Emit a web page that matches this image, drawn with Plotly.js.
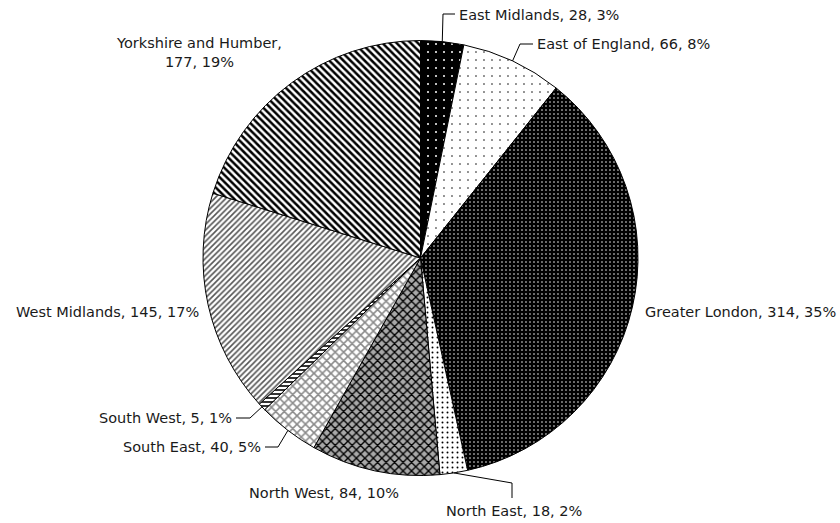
<!DOCTYPE html>
<html>
<head>
<meta charset="utf-8">
<script src="https://cdn.plot.ly/plotly-3.0.1.min.js"></script>
<style>html,body{margin:0;padding:0;background:#fff;}#chart{width:840px;height:523px;}</style>
</head>
<body>
<div id="chart"></div>
<script>
// ---- data ----
const regions = ["East Midlands","East of England","Greater London","North East","North West","South East","South West","West Midlands","Yorkshire and Humber"];
const counts = [28, 66, 314, 18, 84, 40, 5, 145, 177];
const pctLabels = ["3%","8%","35%","2%","10%","5%","1%","17%","19%"];

// ---- styling ----
const W = 840, H = 523;
const cx = 420.5, cy = 258, R = 217.5;
const patShape = [".", ".", ".", ".", "x", "x", "-", "/", "\\"];
const patFg = ["#ffffff", "#000000", "#ffffff", "#000000", "#000000", "#8a8a8a", "#000000", "#555555", "#000000"];
const patBg = ["#000000", "#ffffff", "#000000", "#ffffff", "#a8a8a8", "#ffffff", "#ffffff", "#ffffff", "#ffffff"];
const patSize = [8, 8, 4, 5, 6, 6, 4, 4, 5];
const patSolid = [0.05, 0.03, 0.12, 0.12, 0.4, 0.45, 0.4, 0.4, 0.5];

// label placement (pixels): [x, y, xanchor], optional leader elbow & end
const labelPos = [
  {x: 457, y: 15, a: "left", elbow: [443, 14], end: [455, 14]},
  {x: 535, y: 44, a: "left", elbow: [520, 44], end: [533, 44]},
  {x: 643, y: 312, a: "left"},
  {x: 514, y: 511, a: "center", elbow: [512, 483], end: [512, 498]},
  {x: 324, y: 493, a: "center"},
  {x: 263, y: 447, a: "right", elbow: [278, 447], end: [265, 447]},
  {x: 234, y: 418, a: "right", elbow: [250, 418], end: [236, 418]},
  {x: 201, y: 312, a: "right"},
  {x: 199, y: 53, a: "center", twoLine: true}
];

const px = x => x / W;
const py = y => 1 - y / H;

const total = counts.reduce((s, v) => s + v, 0);
let cum = 0;
const annotations = [];
const shapes = [];
counts.forEach((v, i) => {
  const mid = (cum + v / 2) / total * 2 * Math.PI;
  cum += v;
  const ex = cx + R * Math.sin(mid), ey = cy - R * Math.cos(mid);
  const L = labelPos[i];
  const txt = L.twoLine ? `${regions[i]},<br>${v}, ${pctLabels[i]}` : `${regions[i]}, ${v}, ${pctLabels[i]}`;
  annotations.push({
    text: txt, xref: "paper", yref: "paper", x: px(L.x), y: py(L.y),
    xanchor: L.a, yanchor: "middle", showarrow: false, align: "center",
    font: {family: "DejaVu Sans, Verdana, sans-serif", size: 14.5, color: "#1a1a1a"}
  });
  if (L.elbow) {
    const pts = [[ex, ey], L.elbow, L.end];
    for (let k = 0; k < 2; k++) {
      shapes.push({type: "line", xref: "paper", yref: "paper",
        x0: px(pts[k][0]), y0: py(pts[k][1]), x1: px(pts[k+1][0]), y1: py(pts[k+1][1]),
        line: {color: "#000", width: 1}});
    }
  }
});

const trace = {
  type: "pie",
  labels: regions,
  values: counts,
  sort: false,
  direction: "clockwise",
  rotation: 0,
  textinfo: "none",
  hoverinfo: "label+value",
  domain: {x: [(cx - R) / W, (cx + R) / W], y: [1 - (cy + R) / H, 1 - (cy - R) / H]},
  marker: {
    colors: patBg,
    line: {color: "#000000", width: 1},
    pattern: {shape: patShape, fgcolor: patFg, bgcolor: patBg, size: patSize, solidity: patSolid, fillmode: "replace"}
  }
};

Plotly.newPlot("chart", [trace], {
  width: W, height: H,
  margin: {l: 0, r: 0, t: 0, b: 0},
  showlegend: false,
  paper_bgcolor: "#ffffff",
  annotations: annotations,
  shapes: shapes
}, {displayModeBar: false, staticPlot: true});
</script>
</body>
</html>
